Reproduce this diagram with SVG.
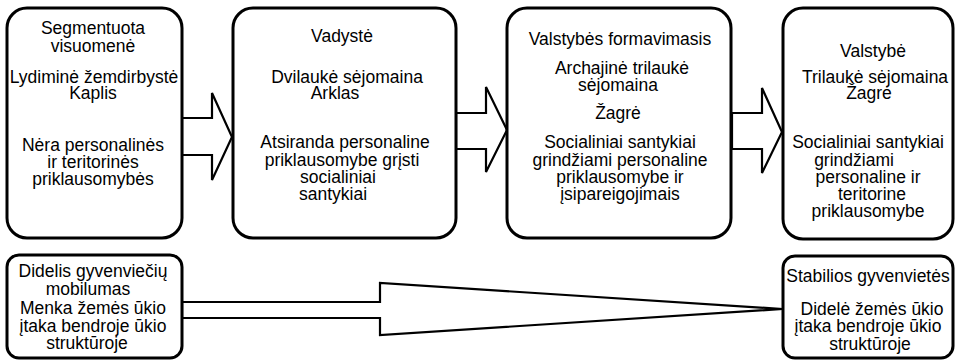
<svg xmlns="http://www.w3.org/2000/svg" width="955" height="362" viewBox="0 0 955 362">
<style>
.box{fill:#fff;stroke:#000;stroke-width:3}
.arr{fill:#fff;stroke:#000;stroke-width:2.2;stroke-linejoin:miter}
text{font-family:"Liberation Sans",Arial,sans-serif;font-size:17.5px;fill:#000;text-anchor:middle}
</style>
<rect width="955" height="362" fill="#fff"/>
<g id="connectors">
<polygon class="arr" points="182,118 212,118 212,93 232,137 212,180 212,155 182,155"/>
<polygon class="arr" points="456,113 486,113 486,87 507,130 486,172 486,149 456,149"/>
<polygon class="arr" points="732,113 762,113 762,88 782,132 762,173 762,149 732,149"/>
<polygon class="arr" points="182,302 380,302 380,283 783,309 380,335 380,318 182,318"/>
</g>
<g id="n1">
<rect class="box" x="7" y="8" width="175" height="230" rx="20"/>
<text x="93" y="34">Segmentuota</text>
<text x="93" y="52">visuomenė</text>
<text x="94" y="83">Lydiminė žemdirbystė</text>
<text x="93" y="99">Kaplis</text>
<text x="93" y="151">Nėra personalinės</text>
<text x="93" y="168">ir teritorinės</text>
<text x="93" y="185">priklausomybės</text>
</g>
<g id="n2">
<rect class="box" x="233" y="8" width="223" height="230" rx="20"/>
<text x="342" y="42">Vadystė</text>
<text x="347" y="83">Dvilaukė sėjomaina</text>
<text x="335" y="99">Arklas</text>
<text x="345" y="148">Atsiranda personaline</text>
<text x="342" y="166">priklausomybe grįsti</text>
<text x="338" y="183">socialiniai</text>
<text x="333" y="200">santykiai</text>
</g>
<g id="n3">
<rect class="box" x="507" y="8" width="224" height="230" rx="20"/>
<text x="620" y="45">Valstybės formavimasis</text>
<text x="622" y="74">Archajinė trilaukė</text>
<text x="618" y="91">sėjomaina</text>
<text x="618" y="119">Žagrė</text>
<text x="620" y="148">Socialiniai santykiai</text>
<text x="620" y="166">grindžiami personaline</text>
<text x="620" y="183">priklausomybe ir</text>
<text x="620" y="200">įsipareigojimais</text>
</g>
<g id="n4">
<rect class="box" x="783" y="8" width="170" height="231" rx="20"/>
<text x="873" y="57">Valstybė</text>
<text x="875" y="83">Trilaukė sėjomaina</text>
<text x="869" y="99">Žagrė</text>
<text x="868" y="148">Socialiniai santykiai</text>
<text x="854" y="166">grindžiami</text>
<text x="868" y="183">personaline ir</text>
<text x="872" y="200">teritorine</text>
<text x="868" y="217">priklausomybe</text>
</g>
<g id="n5">
<rect class="box" x="7" y="255" width="175" height="103" rx="12"/>
<text x="93" y="277">Didelis gyvenviečių</text>
<text x="88" y="295">mobilumas</text>
<text x="93" y="314">Menka žemės ūkio</text>
<text x="93" y="332">įtaka bendroje ūkio</text>
<text x="87" y="349">struktūroje</text>
</g>
<g id="n6">
<rect class="box" x="783" y="256" width="170" height="102" rx="12"/>
<text x="868" y="282">Stabilios gyvenvietės</text>
<text x="872" y="315">Didelė žemės ūkio</text>
<text x="868" y="332">įtaka bendroje ūkio</text>
<text x="870" y="350">struktūroje</text>
</g>
</svg>
